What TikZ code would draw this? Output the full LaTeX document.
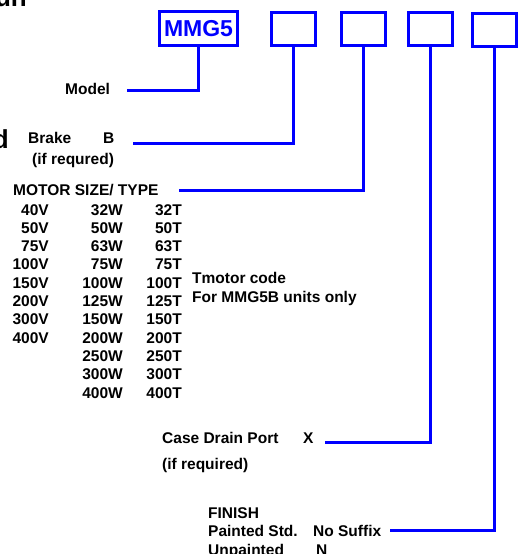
\documentclass[tikz,border=0pt]{standalone}
\usepackage{fontspec}
\setmainfont{Liberation Sans}
\usepackage{tikz}
\tikzset{>=latex}
\newcommand{\lbfont}{\fontsize{15.5}{18}\selectfont\bfseries}
\tikzset{
  lead/.style={blue, line width=3pt},
  codebox/.style={draw=blue, line width=3pt, inner sep=0pt, minimum width=44pt, minimum height=33pt},
  lbl/.style={anchor=base west, inner sep=0pt, font=\lbfont},
  num/.style={anchor=base east, inner sep=0pt, font=\lbfont},
}

\begin{document}
\begin{tikzpicture}[x=1pt,y=-1pt]
                \useasboundingbox (0,0) rectangle (518,554);
                \clip (0,0) rectangle (518,554);
                % cut-off title letters
                \node[anchor=base east, inner sep=0pt, font=\fontsize{26}{30}\selectfont\bfseries] (title) at (27,6) {un};
                \node[anchor=base east, inner sep=0pt, font=\fontsize{26}{30}\selectfont\bfseries] (title2) at (9,148) {d};
                % code boxes
                \node[codebox, minimum width=78pt, minimum height=34pt, text=blue, font=\fontsize{23}{26}\selectfont\bfseries] (b1) at (198.5,28.5) {MMG5};
                \node[codebox] (b2) at (293.5,28.5) {};
                \node[codebox] (b3) at (363,28.5) {};
                \node[codebox] (b4) at (430,28.5) {};
                \node[codebox] (b5) at (494,29.5) {};
                % labels
                \node[lbl] (model) at (65,94) {Model};
                \node[lbl] (brake) at (28,143) {Brake};
                \node[lbl] (brakeB) at (103,143) {B};
                \node[lbl] (ifreq) at (32,164) {(if requred)};
                \node[lbl] (motor) at (13,195) {MOTOR SIZE/ TYPE};
                \foreach \v [count=\i] in {40V,50V,75V,100V,150V,200V,300V,400V}
                    \node[num] (v\i) at (49,{215+18.3*(\i-1)}) {\v};
                \foreach \w [count=\i] in {32W,50W,63W,75W,100W,125W,150W,200W,250W,300W,400W}
                    \node[num] (w\i) at (123,{215+18.3*(\i-1)}) {\w};
                \foreach \t [count=\i] in {32T,50T,63T,75T,100T,125T,150T,200T,250T,300T,400T}
                    \node[num] (t\i) at (182,{215+18.3*(\i-1)}) {\t};
                \node[lbl] (tmotor) at (192,283) {Tmotor code};
                \node[lbl] (mmg5b) at (192,302) {For MMG5B units only};
                \node[lbl] (drain) at (162,443) {Case Drain Port};
                \node[lbl] (drainX) at (303,443) {X};
                \node[lbl] (ifreq2) at (162,469) {(if required)};
                \node[lbl] (finish) at (208,518) {FINISH};
                \node[lbl] (painted) at (208,536) {Painted Std.};
                \node[lbl] (nosuffix) at (313,536) {No Suffix};
                \node[lbl] (unpainted) at (208,555) {Unpainted};
                \node[lbl] (unN) at (316,555) {N};
                % leader ends
                \coordinate (modelend) at (127,90);
                \coordinate (brakeend) at (133,143);
                \coordinate (motorend) at (179,190);
                \coordinate (drainend) at (325,442);
                \coordinate (finishend) at (390,530);
                \draw[lead] (b1.south) |- (modelend);
                \draw[lead] (b2.south) |- (brakeend);
                \draw[lead] (b3.south) |- (motorend);
                \draw[lead] (b4.south) |- (drainend);
                \draw[lead] (b5.south) |- (finishend);
            \end{tikzpicture}
\end{document}
